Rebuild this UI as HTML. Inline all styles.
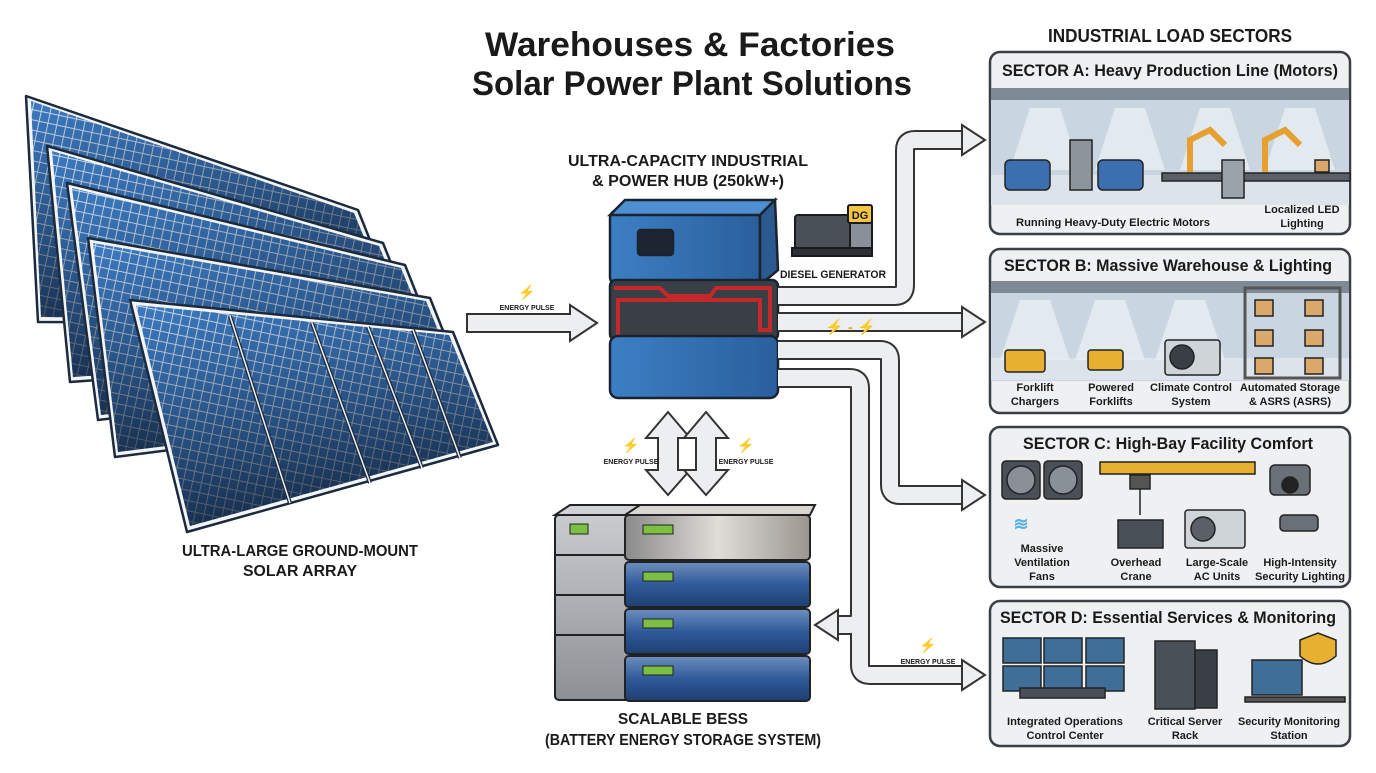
<!DOCTYPE html>
<html><head><meta charset="utf-8"><style>
body{margin:0;background:#fff;width:1376px;height:768px;overflow:hidden;font-family:"Liberation Sans",sans-serif}
svg text{font-family:"Liberation Sans",sans-serif;font-weight:bold;fill:#1a1a1a}
</style></head><body>
<svg width="1376" height="768" viewBox="0 0 1376 768" xmlns="http://www.w3.org/2000/svg">
<defs>
<pattern id="cells" width="9" height="10" patternUnits="userSpaceOnUse" patternTransform="rotate(12)">
<rect width="9" height="10" fill="#3c7ac0"/><rect width="9" height="1" fill="#cfdcec"/><rect width="1" height="10" fill="#cfdcec"/>
</pattern>
<linearGradient id="shade" x1="0" y1="0" x2="0.3" y2="1"><stop offset="0" stop-color="#0a1830" stop-opacity="0"/><stop offset="1" stop-color="#050b18" stop-opacity=".7"/></linearGradient>
<linearGradient id="hub" x1="0" x2="1"><stop offset="0" stop-color="#3d7fc4"/><stop offset="1" stop-color="#2a5f9c"/></linearGradient>
<linearGradient id="bat" x1="0" y1="0" x2="0" y2="1"><stop offset="0" stop-color="#6e8fbf"/><stop offset=".5" stop-color="#2f5a9a"/><stop offset="1" stop-color="#1e3f72"/></linearGradient>
<linearGradient id="grey" x1="0" y1="0" x2="0" y2="1"><stop offset="0" stop-color="#c9cccf"/><stop offset="1" stop-color="#8c9095"/></linearGradient>
<linearGradient id="silver" x1="0" x2="1"><stop offset="0" stop-color="#8a8a8a"/><stop offset=".5" stop-color="#e0ddd8"/><stop offset="1" stop-color="#9a958f"/></linearGradient>
</defs>

<!-- Titles -->
<text x="690" y="56" font-size="34" text-anchor="middle" textLength="410" lengthAdjust="spacingAndGlyphs">Warehouses &amp; Factories</text>
<text x="692" y="95" font-size="34" text-anchor="middle" textLength="440" lengthAdjust="spacingAndGlyphs">Solar Power Plant Solutions</text>
<text x="1170" y="42" font-size="18" text-anchor="middle" textLength="244" lengthAdjust="spacingAndGlyphs">INDUSTRIAL LOAD SECTORS</text>

<!-- Solar array -->
<g stroke="#1c2a3d" stroke-width="2.5" stroke-linejoin="round">
<g><polygon points="26,96 358,210 403,323 38,322" fill="#f2f4f6"/><polygon points="31,101 354,213 398,320 41,317" fill="url(#cells)" stroke="none"/><polygon points="31,101 354,213 398,320 41,317" fill="url(#shade)" stroke="none"/></g>
<g><polygon points="47,146 383,243 428,356 70,382" fill="#f2f4f6"/><polygon points="52,151 379,246 423,353 73,377" fill="url(#cells)" stroke="none"/><polygon points="52,151 379,246 423,353 73,377" fill="url(#shade)" stroke="none"/></g>
<g><polygon points="67,183 405,265 450,378 98,420" fill="#f2f4f6"/><polygon points="72,188 401,268 445,375 101,415" fill="url(#cells)" stroke="none"/><polygon points="72,188 401,268 445,375 101,415" fill="url(#shade)" stroke="none"/></g>
<g><polygon points="88,238 430,298 475,411 115,457" fill="#f2f4f6"/><polygon points="93,243 426,301 470,408 118,452" fill="url(#cells)" stroke="none"/><polygon points="93,243 426,301 470,408 118,452" fill="url(#shade)" stroke="none"/></g>
<g><polygon points="130,300 453,332 498,445 187,532" fill="#f2f4f6"/><polygon points="136,305 449,335 493,442 190,526" fill="url(#cells)" stroke="none"/><polygon points="136,305 449,335 493,442 190,526" fill="url(#shade)" stroke="none"/></g>
</g>
<g stroke="#1c2a3d" stroke-width="4" fill="none">
<line x1="230" y1="316" x2="290" y2="503"/><line x1="312" y1="323" x2="370" y2="483"/><line x1="368" y1="327" x2="422" y2="468"/><line x1="413" y1="330" x2="460" y2="458"/>
</g>
<g stroke="#eef2f6" stroke-width="1.5" fill="none">
<line x1="230" y1="316" x2="290" y2="503"/><line x1="312" y1="323" x2="370" y2="483"/><line x1="368" y1="327" x2="422" y2="468"/><line x1="413" y1="330" x2="460" y2="458"/>
</g>
<text x="300" y="556" font-size="16" text-anchor="middle" textLength="236" lengthAdjust="spacingAndGlyphs">ULTRA-LARGE GROUND-MOUNT</text>
<text x="300" y="576" font-size="16" text-anchor="middle" textLength="114" lengthAdjust="spacingAndGlyphs">SOLAR ARRAY</text>

<!-- Input arrow -->
<polygon points="467,314 570,314 570,305 597,323 570,341 570,332 467,332" fill="#eceef0" stroke="#333" stroke-width="2"/>
<text x="527" y="310" font-size="7" text-anchor="middle">ENERGY PULSE</text>
<text x="527" y="297" font-size="14" text-anchor="middle" style="fill:#e8b020">⚡</text>

<!-- Hub -->
<text x="688" y="166" font-size="16" text-anchor="middle" textLength="240" lengthAdjust="spacingAndGlyphs">ULTRA-CAPACITY INDUSTRIAL</text>
<text x="688" y="186" font-size="16" text-anchor="middle" textLength="192" lengthAdjust="spacingAndGlyphs">&amp; POWER HUB (250kW+)</text>
<g stroke="#1a2330" stroke-width="2.5">
<rect x="610" y="210" width="150" height="75" rx="8" fill="url(#hub)"/>
<polygon points="610,215 625,200 775,200 760,215" fill="#4d8fd0"/>
<polygon points="760,215 775,200 778,270 760,285" fill="#2a5a90"/>
<rect x="610" y="280" width="168" height="60" rx="6" fill="#3a3f46"/>
<path d="M614,288 H660 L668,296 H710 L716,288 H770 V330 H760 V300 H618 V335" fill="none" stroke="#c4282a" stroke-width="4"/>
<rect x="610" y="336" width="168" height="62" rx="8" fill="url(#hub)"/>
<rect x="638" y="230" width="35" height="25" rx="3" fill="#1d2530"/>
</g>
<!-- Diesel generator -->
<g stroke="#1a1a1a" stroke-width="2">
<rect x="795" y="215" width="60" height="35" rx="3" fill="#4a5058"/>
<rect x="792" y="248" width="80" height="8" fill="#2e3238"/>
<rect x="850" y="222" width="22" height="26" fill="#8a9098"/>
<rect x="848" y="205" width="24" height="18" rx="2" fill="#f4c542"/>
</g>
<text x="860" y="219" font-size="11" text-anchor="middle">DG</text>
<text x="833" y="278" font-size="11" text-anchor="middle" textLength="106" lengthAdjust="spacingAndGlyphs">DIESEL GENERATOR</text>

<!-- Vertical arrows hub<->BESS -->
<g fill="#eceef0" stroke="#333" stroke-width="2">
<polygon points="668,412 690,438 678,438 678,470 690,470 668,495 646,470 658,470 658,438 646,438"/>
<polygon points="706,412 728,438 716,438 716,470 728,470 706,495 684,470 696,470 696,438 684,438"/>
</g>
<text x="631" y="464" font-size="7" text-anchor="middle">ENERGY PULSE</text>
<text x="631" y="450" font-size="14" text-anchor="middle" style="fill:#e8b020">⚡</text>
<text x="746" y="464" font-size="7" text-anchor="middle">ENERGY PULSE</text>
<text x="746" y="450" font-size="14" text-anchor="middle" style="fill:#e8b020">⚡</text>

<!-- BESS -->
<g stroke="#222" stroke-width="2">
<rect x="555" y="515" width="75" height="185" rx="4" fill="url(#grey)"/>
<polygon points="555,515 570,505 705,505 690,515" fill="#d0d3d6"/>
<line x1="555" y1="555" x2="630" y2="555"/><line x1="555" y1="595" x2="630" y2="595"/><line x1="555" y1="635" x2="630" y2="635"/>
<rect x="625" y="515" width="185" height="45" rx="4" fill="url(#silver)"/>
<rect x="625" y="562" width="185" height="45" rx="4" fill="url(#bat)"/>
<rect x="625" y="609" width="185" height="45" rx="4" fill="url(#bat)"/>
<rect x="625" y="656" width="185" height="45" rx="4" fill="url(#bat)"/>
<polygon points="625,515 640,505 815,505 810,515" fill="#d9d6d2"/>
</g>
<g fill="#7bc043" stroke="#222" stroke-width="1">
<rect x="570" y="524" width="18" height="10"/><rect x="643" y="525" width="30" height="9"/><rect x="643" y="572" width="30" height="9"/><rect x="643" y="619" width="30" height="9"/><rect x="643" y="666" width="30" height="9"/>
</g>
<text x="683" y="724" font-size="16" text-anchor="middle" textLength="130" lengthAdjust="spacingAndGlyphs">SCALABLE BESS</text>
<text x="683" y="745" font-size="16" text-anchor="middle" textLength="276" lengthAdjust="spacingAndGlyphs">(BATTERY ENERGY STORAGE SYSTEM)</text>

<!-- Pipes -->
<g fill="none" stroke-linejoin="round">
<g stroke="#333" stroke-width="20">
<path d="M778,296 H895 Q905,296 905,285 V150 Q905,140 915,140 H965"/>
<path d="M778,322 H965"/>
<path d="M778,350 H880 Q890,350 890,360 V485 Q890,495 900,495 H965"/>
<path d="M778,378 H850 Q860,378 860,388 V665 Q860,675 870,675 H965"/>
<path d="M860,560 V615 Q860,625 850,625 H835"/>
</g>
<g stroke="#eceef0" stroke-width="16">
<path d="M778,296 H895 Q905,296 905,285 V150 Q905,140 915,140 H965"/>
<path d="M778,322 H965"/>
<path d="M778,350 H880 Q890,350 890,360 V485 Q890,495 900,495 H965"/>
<path d="M778,378 H850 Q860,378 860,388 V665 Q860,675 870,675 H965"/>
<path d="M860,560 V615 Q860,625 850,625 H835"/>
</g>
</g>
<g fill="#eceef0" stroke="#333" stroke-width="2">
<polygon points="962,125 985,140 962,155"/>
<polygon points="962,307 985,322 962,337"/>
<polygon points="962,480 985,495 962,510"/>
<polygon points="962,660 985,675 962,690"/>
<polygon points="838,610 815,625 838,640"/>
</g>
<text x="825" y="332" font-size="15" style="fill:#e8b020">⚡ - ⚡</text>
<text x="928" y="664" font-size="7" text-anchor="middle">ENERGY PULSE</text>
<text x="928" y="650" font-size="14" text-anchor="middle" style="fill:#e8b020">⚡</text>

<!-- Sector panels -->
<g stroke="#3a3f45" stroke-width="2.5" fill="#eef0f2">
<rect x="990" y="52" width="360" height="182" rx="10"/>
<rect x="990" y="249" width="360" height="164" rx="10"/>
<rect x="990" y="427" width="360" height="160" rx="10"/>
<rect x="990" y="601" width="360" height="145" rx="10"/>
</g>
<!-- scene A -->
<rect x="991" y="88" width="358" height="116" fill="#c9d5e1"/>
<rect x="991" y="88" width="358" height="12" fill="#7e8a96"/>
<rect x="991" y="175" width="358" height="30" fill="#dde3ea"/>
<g fill="#e9eef3" opacity=".8">
<polygon points="1030,108 1060,108 1080,170 1010,170"/><polygon points="1115,108 1145,108 1165,170 1095,170"/>
<polygon points="1200,108 1230,108 1250,170 1180,170"/><polygon points="1285,108 1315,108 1335,170 1265,170"/>
</g>
<g stroke="#222" stroke-width="1.5">
<rect x="1005" y="160" width="45" height="30" rx="5" fill="#3c6fb0"/>
<rect x="1098" y="160" width="45" height="30" rx="5" fill="#3c6fb0"/>
<rect x="1070" y="140" width="22" height="50" fill="#8c949c"/>
<rect x="1162" y="173" width="188" height="8" fill="#5a6068"/>
<rect x="1222" y="160" width="22" height="38" fill="#9aa2aa"/>
<rect x="1315" y="160" width="14" height="12" fill="#d9a86a"/>
<path d="M1190,172 V140 L1210,130 L1225,145" fill="none" stroke="#e6a030" stroke-width="6"/>
<path d="M1265,172 V140 L1285,130 L1300,145" fill="none" stroke="#e6a030" stroke-width="6"/>
</g>
<text x="1170" y="76" font-size="17" text-anchor="middle" textLength="336" lengthAdjust="spacingAndGlyphs">SECTOR A: Heavy Production Line (Motors)</text>
<text x="1113" y="226" font-size="11" text-anchor="middle" textLength="194" lengthAdjust="spacingAndGlyphs">Running Heavy-Duty Electric Motors</text>
<text x="1302" y="213" font-size="11" text-anchor="middle">Localized LED</text>
<text x="1302" y="227" font-size="11" text-anchor="middle">Lighting</text>
<!-- scene B -->
<rect x="991" y="281" width="358" height="100" fill="#c9d5e1"/>
<rect x="991" y="281" width="358" height="12" fill="#7e8a96"/>
<rect x="991" y="358" width="358" height="22" fill="#dde3ea"/>
<g fill="#e9eef3" opacity=".8">
<polygon points="1020,300 1050,300 1070,360 1000,360"/><polygon points="1095,300 1125,300 1145,360 1075,360"/><polygon points="1175,300 1205,300 1225,360 1155,360"/>
</g>
<g stroke="#222" stroke-width="1.5">
<rect x="1005" y="350" width="40" height="22" rx="3" fill="#e8b030"/>
<rect x="1088" y="350" width="35" height="20" rx="3" fill="#e8b030"/>
<rect x="1165" y="340" width="55" height="35" rx="3" fill="#cfd4d9"/>
<circle cx="1182" cy="357" r="12" fill="#3a3f46"/>
<rect x="1245" y="288" width="95" height="90" fill="none" stroke="#555" stroke-width="3"/>
<rect x="1255" y="300" width="18" height="16" fill="#d9a86a"/><rect x="1305" y="300" width="18" height="16" fill="#d9a86a"/>
<rect x="1255" y="330" width="18" height="16" fill="#d9a86a"/><rect x="1305" y="330" width="18" height="16" fill="#d9a86a"/>
<rect x="1255" y="358" width="18" height="16" fill="#d9a86a"/><rect x="1305" y="358" width="18" height="16" fill="#d9a86a"/>
</g>
<text x="1168" y="271" font-size="17" text-anchor="middle" textLength="328" lengthAdjust="spacingAndGlyphs">SECTOR B: Massive Warehouse &amp; Lighting</text>
<g font-size="11" text-anchor="middle">
<text x="1035" y="391">Forklift</text><text x="1035" y="405">Chargers</text>
<text x="1111" y="391">Powered</text><text x="1111" y="405">Forklifts</text>
<text x="1191" y="391" textLength="82" lengthAdjust="spacingAndGlyphs">Climate Control</text><text x="1191" y="405">System</text>
<text x="1290" y="391" textLength="100" lengthAdjust="spacingAndGlyphs">Automated Storage</text><text x="1290" y="405">&amp; ASRS (ASRS)</text>
</g>
<!-- scene C -->
<text x="1168" y="449" font-size="17" text-anchor="middle" textLength="290" lengthAdjust="spacingAndGlyphs">SECTOR C: High-Bay Facility Comfort</text>
<g stroke="#222" stroke-width="1.5">
<rect x="1002" y="461" width="38" height="38" rx="4" fill="#4a5058"/><circle cx="1021" cy="480" r="14" fill="#8a9098"/>
<rect x="1044" y="461" width="38" height="38" rx="4" fill="#4a5058"/><circle cx="1063" cy="480" r="14" fill="#8a9098"/>
<rect x="1100" y="462" width="155" height="12" fill="#e8b030"/>
<rect x="1130" y="475" width="20" height="14" fill="#555"/>
<line x1="1140" y1="489" x2="1140" y2="515"/>
<rect x="1118" y="520" width="45" height="28" fill="#4a5058"/>
<rect x="1185" y="510" width="60" height="38" rx="3" fill="#cfd4d9"/><circle cx="1203" cy="529" r="12" fill="#5a6068"/>
<rect x="1270" y="465" width="40" height="30" rx="5" fill="#6a7078"/><circle cx="1290" cy="485" r="8" fill="#222"/>
<rect x="1280" y="515" width="38" height="16" rx="4" fill="#6a7078"/>
</g>
<text x="1021" y="530" font-size="18" text-anchor="middle" style="fill:#5ab0e0">≋</text>
<g font-size="11" text-anchor="middle">
<text x="1042" y="552">Massive</text><text x="1042" y="566">Ventilation</text><text x="1042" y="580">Fans</text>
<text x="1136" y="566">Overhead</text><text x="1136" y="580">Crane</text>
<text x="1217" y="566">Large-Scale</text><text x="1217" y="580">AC Units</text>
<text x="1300" y="566">High-Intensity</text><text x="1300" y="580" textLength="90" lengthAdjust="spacingAndGlyphs">Security Lighting</text>
</g>
<!-- scene D -->
<text x="1168" y="623" font-size="17" text-anchor="middle" textLength="336" lengthAdjust="spacingAndGlyphs">SECTOR D: Essential Services &amp; Monitoring</text>
<g stroke="#222" stroke-width="1.5">
<rect x="1003" y="638" width="38" height="25" fill="#3f6f98"/><rect x="1044" y="638" width="38" height="25" fill="#3f6f98"/><rect x="1086" y="638" width="38" height="25" fill="#3f6f98"/>
<rect x="1003" y="666" width="38" height="25" fill="#3f6f98"/><rect x="1044" y="666" width="38" height="25" fill="#3f6f98"/><rect x="1086" y="666" width="38" height="25" fill="#3f6f98"/>
<rect x="1020" y="688" width="85" height="10" fill="#4a5058"/>
<rect x="1155" y="641" width="40" height="68" fill="#4a5058"/>
<rect x="1195" y="650" width="22" height="58" fill="#3a3f46"/>
<rect x="1252" y="660" width="50" height="35" fill="#3f6f98"/>
<rect x="1245" y="697" width="100" height="5" fill="#555"/>
<path d="M1300,640 L1318,633 L1336,640 V656 Q1318,672 1300,656 Z" fill="#e8b030"/>
</g>
<g font-size="11" text-anchor="middle">
<text x="1065" y="725" textLength="116" lengthAdjust="spacingAndGlyphs">Integrated Operations</text><text x="1065" y="739">Control Center</text>
<text x="1185" y="725">Critical Server</text><text x="1185" y="739">Rack</text>
<text x="1289" y="725" textLength="102" lengthAdjust="spacingAndGlyphs">Security Monitoring</text><text x="1289" y="739">Station</text>
</g>
</svg>
</body></html>
